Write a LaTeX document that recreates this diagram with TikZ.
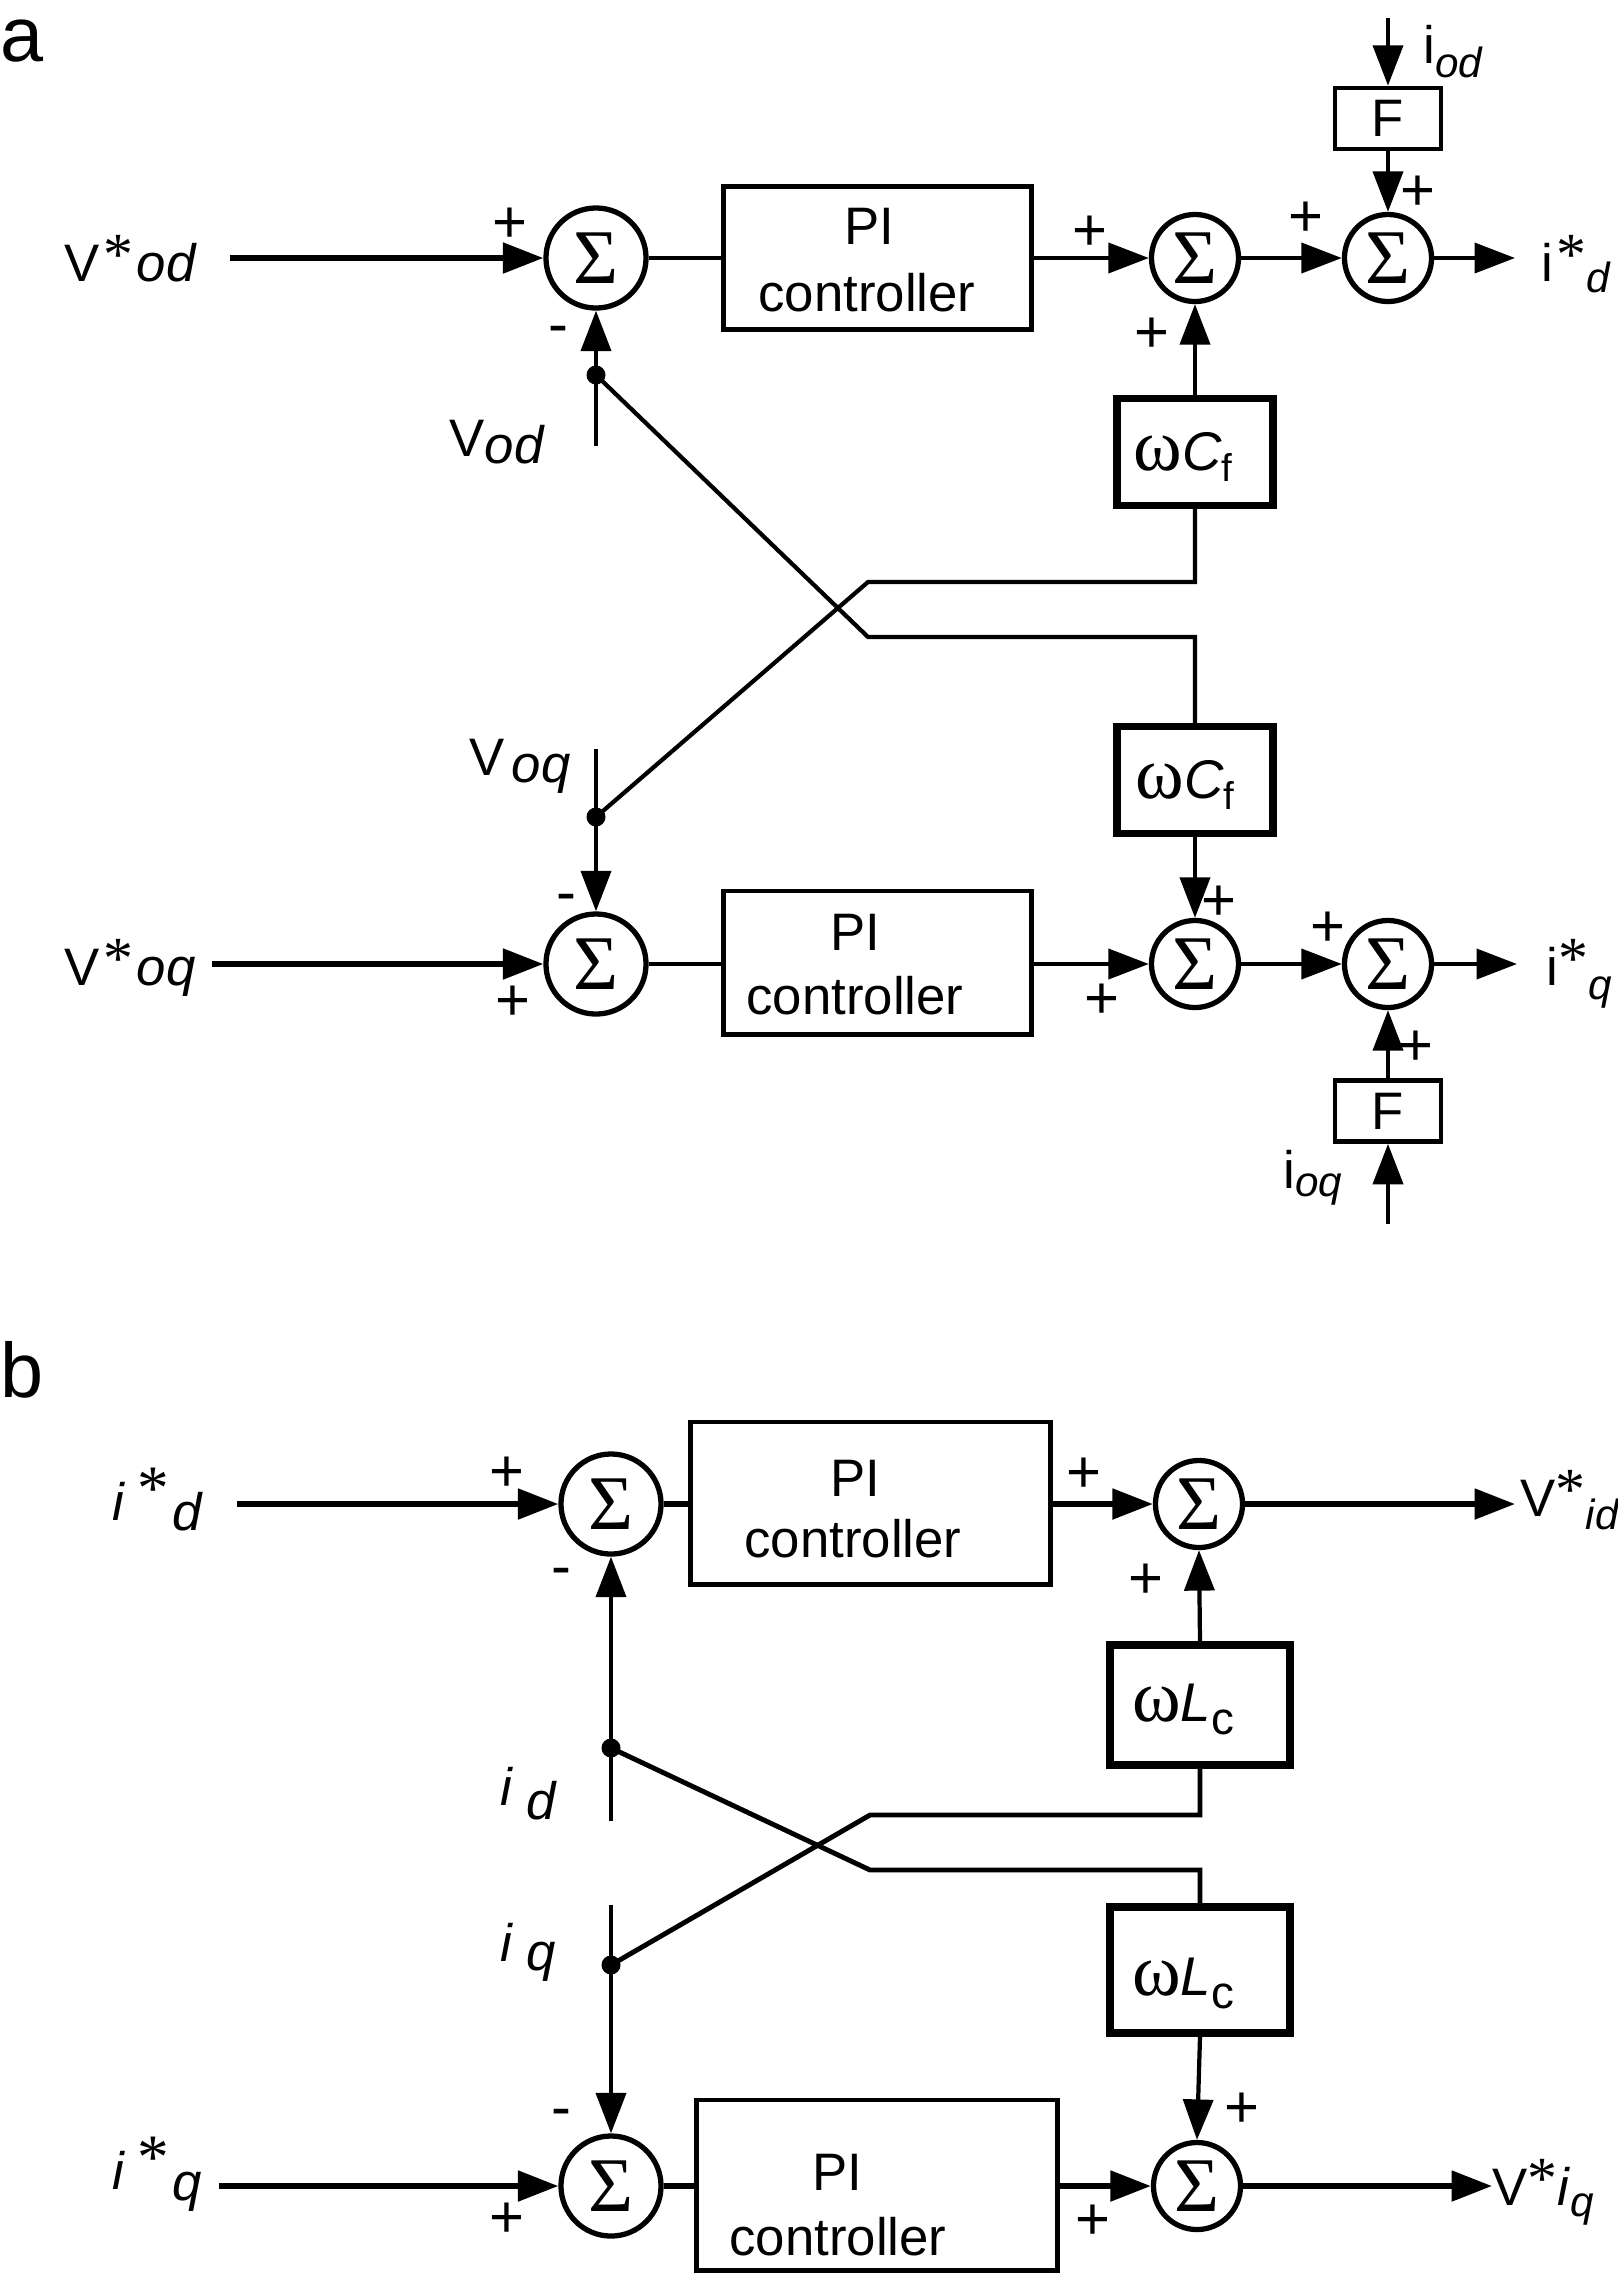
\documentclass[tikz,border=0pt]{standalone}
\usepackage{fontspec}
\setmainfont{Liberation Sans}
\newfontfamily\serifn{Liberation Serif}
\usetikzlibrary{arrows.meta}
\newcommand\Lf{\fontsize{15}{18}\selectfont}
\newcommand\Sf{\fontsize{12}{14}\selectfont\itshape}
\newcommand\Pf{\fontsize{17}{20}\selectfont}
\newcommand\Gf{\serifn\fontsize{22}{26}\selectfont}
\newcommand\Wf{{\serifn\fontsize{21}{24}\selectfont ω}}
\newcommand\Af{\raisebox{1.8pt}{\serifn\fontsize{17}{19}\selectfont\upshape *}}
\newcommand\Bf{\raisebox{3pt}{\serifn\fontsize{18}{20}\selectfont\upshape *}}
\newcommand\Cc{{\fontsize{15.5}{17}\selectfont\itshape C}}
\newcommand\Ll{{\fontsize{15.5}{17}\selectfont\itshape L}}
\begin{document}
\begin{tikzpicture}[x=0.01cm,y=-0.01cm,
  sumA/.style={circle,draw,line width=1.5pt,inner sep=0pt,minimum size=1cm,font=\Gf},
  sumB/.style={sumA,minimum size=0.87cm},
  pibox/.style={draw,line width=1.4pt,inner sep=0pt},
  gainbox/.style={draw,line width=2.1pt,inner sep=0pt,minimum width=1.56cm,minimum height=1.07cm},
  fblock/.style={draw,line width=1.3pt,inner sep=0pt,minimum width=1.06cm,minimum height=0.61cm,font=\Lf},
  txt/.style={inner sep=0pt,font=\Lf},
  sign/.style={inner sep=0pt,font=\Pf},
  jdot/.style={circle,fill,inner sep=0pt,minimum size=0.19cm},
  arr/.style={-{Triangle[length=11.5pt,width=8.5pt]}},
  ln/.style={line width=1.2pt},
  lnb/.style={line width=1.6pt},
  lnd/.style={line width=1.4pt}]
\useasboundingbox (0,0) rectangle (1618,2275);

% ---------------- panel a ----------------
\node[anchor=base west,inner sep=0pt,font=\fontsize{22}{26}\selectfont] (la) at (0,61) {a};

\node[sumA] (s1) at (596,258) {Σ};
\node[sumB] (s2) at (1195,258) {Σ};
\node[sumB] (s3) at (1388,258) {Σ};
\node[pibox,minimum width=3.07cm,minimum height=1.43cm] (pi1) at (877.5,258) {};
\node[fblock] (f1) at (1388,118.5) {F};
\node[gainbox] (g1) at (1195,452) {};
\node[gainbox] (g2) at (1195,780) {};
\node[sumA] (s4) at (596,964) {Σ};
\node[sumB] (s5) at (1195,964) {Σ};
\node[sumB] (s6) at (1388,964) {Σ};
\node[pibox,minimum width=3.07cm,minimum height=1.43cm] (pi2) at (877.5,962.5) {};
\node[fblock] (f2) at (1388,1111) {F};

\node[txt,anchor=base] (pi1a) at (869,244) {PI};
\node[txt,anchor=base] (pi1b) at (867,311) {controller};
\node[txt,anchor=base] (pi2a) at (855,950) {PI};
\node[txt,anchor=base] (pi2b) at (855,1014) {controller};
\node[txt,anchor=base] (g1t) at (1183,470) {\Wf\Cc\raisebox{-3.4pt}{\fontsize{11}{13}\selectfont f}};
\node[txt,anchor=base] (g2t) at (1185,798) {\Wf\Cc\raisebox{-3.4pt}{\fontsize{11}{13}\selectfont f}};

\coordinate (in1) at (230,258);
\coordinate (out1) at (1515,258);
\coordinate (iodtop) at (1388,18);
\coordinate (vodbot) at (596,446);
\coordinate (dod) at (596,375);
\coordinate (voqtop) at (596,749);
\coordinate (doq) at (596,817);
\coordinate (c1) at (1195,582);
\coordinate (c2) at (868,582);
\coordinate (c3) at (868,637);
\coordinate (c4) at (1195,637);
\coordinate (in2) at (212,964);
\coordinate (out2) at (1517,964);
\coordinate (ioqbot) at (1388,1224);

\draw[lnb,arr] (in1) -- (s1.west);
\draw[ln] (s1.east) -- (pi1.west |- s1);
\draw[ln,arr] (pi1.east |- s2) -- (s2.west);
\draw[ln,arr] (s2.east) -- (s3.west);
\draw[ln,arr] (s3.east) -- (out1);
\draw[ln,arr] (iodtop) -- (f1.north);
\draw[ln,arr] (f1.south) -- (s3.north);
\draw[ln,arr] (g1.north) -- (s2.south);
\draw[ln,arr] (vodbot) -- (s1.south);
\draw[ln,arr] (voqtop) -- (s4.north);
\draw[ln] (g1.south) -- (c1) -- (c2) -- (doq);
\draw[ln] (dod) -- (c3) -- (c4) -- (g2.north);
\draw[ln,arr] (g2.south) -- (s5.north);
\draw[lnb,arr] (in2) -- (s4.west);
\draw[ln] (s4.east) -- (pi2.west |- s4);
\draw[ln,arr] (pi2.east |- s5) -- (s5.west);
\draw[ln,arr] (s5.east) -- (s6.west);
\draw[ln,arr] (s6.east) -- (out2);
\draw[ln,arr] (f2.north) -- (s6.south);
\draw[ln,arr] (ioqbot) -- (f2.south);
\node[jdot] (jod) at (dod) {};
\node[jdot] (joq) at (doq) {};

\node[txt,anchor=base west] (tvsod) at (64,281) {V\kern1pt\Af\kern1pt\textit{od}};
\node[txt,anchor=base west] (tvod) at (449,456) {V\raisebox{-2pt}{\itshape od}};
\node[txt,anchor=base west] (tvoq) at (469,775) {V\kern2pt\raisebox{-2pt}{\itshape oq}};
\node[txt,anchor=base west] (tvsoq) at (64,985) {V\kern1pt\Af\kern1pt\textit{oq}};
\node[txt,anchor=base west] (tisd) at (1541,281) {i\kern1pt\Af\raisebox{-3.4pt}{\Sf d}};
\node[txt,anchor=base west] (tiod) at (1423,63) {i\raisebox{-4pt}{\Sf od}};
\node[txt,anchor=base west] (tisq) at (1546,985) {i\Af\raisebox{-4pt}{\Sf q}};
\node[txt,anchor=base west] (tioq) at (1283,1188) {i\raisebox{-2.5pt}{\Sf oq}};

\node[sign] (p1) at (510,225) {+};
\node[sign] (m1) at (558,335) {-};
\node[sign] (p2) at (1090,233) {+};
\node[sign] (p3) at (1152,335) {+};
\node[sign] (p4) at (1306,219) {+};
\node[sign] (p5) at (1418,193) {+};
\node[sign] (m2) at (566,903) {-};
\node[sign] (p6) at (513,1003) {+};
\node[sign] (p7) at (1219,903) {+};
\node[sign] (p8) at (1102,1001) {+};
\node[sign] (p9) at (1328,929) {+};
\node[sign] (p10) at (1416,1048) {+};

% ---------------- panel b ----------------
\node[anchor=base west,inner sep=0pt,font=\fontsize{22}{26}\selectfont] (lb) at (0,1397) {b};

\node[sumA] (s7) at (611,1504) {Σ};
\node[sumB] (s8) at (1199,1504) {Σ};
\node[pibox,minimum width=3.59cm,minimum height=1.62cm] (pi3) at (870.5,1503) {};
\node[gainbox,minimum width=1.8cm,minimum height=1.2cm] (g3) at (1200,1705) {};
\node[gainbox,minimum width=1.8cm,minimum height=1.26cm] (g4) at (1200,1970) {};
\node[sumA] (s9) at (611,2186) {Σ};
\node[sumB] (s10) at (1197,2186) {Σ};
\node[pibox,minimum width=3.6cm,minimum height=1.7cm] (pi4) at (877,2185) {};

\node[txt,anchor=base] (pi3a) at (855,1496) {PI};
\node[txt,anchor=base] (pi3b) at (853,1557) {controller};
\node[txt,anchor=base] (pi4a) at (837,2190) {PI};
\node[txt,anchor=base] (pi4b) at (838,2255) {controller};
\node[txt,anchor=base] (g3t) at (1183,1721) {\Wf\Ll\raisebox{-3.7pt}{\fontsize{13}{15}\selectfont c}};
\node[txt,anchor=base] (g4t) at (1183,1995) {\Wf\Ll\raisebox{-3.7pt}{\fontsize{13}{15}\selectfont c}};

\coordinate (in3) at (237,1504);
\coordinate (out3) at (1515,1504);
\coordinate (idbot) at (611,1821);
\coordinate (did) at (611,1748);
\coordinate (iqtop) at (611,1905);
\coordinate (diq) at (611,1965);
\coordinate (c5) at (1200,1815);
\coordinate (c6) at (870,1815);
\coordinate (c7) at (870,1870);
\coordinate (c8) at (1200,1870);
\coordinate (in4) at (219,2186);
\coordinate (out4) at (1492,2186);

\draw[lnb,arr] (in3) -- (s7.west);
\draw[lnb] (s7.east) -- (pi3.west |- s7);
\draw[lnb,arr] (pi3.east |- s8) -- (s8.west);
\draw[lnb,arr] (s8.east) -- (out3);
\draw[ln,arr] (g3.north) -- (s8.south);
\draw[ln,arr] (idbot) -- (s7.south);
\draw[lnd] (g3.south) -- (c5) -- (c6) -- (diq);
\draw[ln,arr] (iqtop) -- (s9.north);
\draw[lnd] (did) -- (c7) -- (c8) -- (g4.north);
\draw[ln,arr] (g4.south) -- (s10.north);
\draw[lnb,arr] (in4) -- (s9.west);
\draw[lnb] (s9.east) -- (pi4.west |- s9);
\draw[lnb,arr] (pi4.east |- s10) -- (s10.west);
\draw[lnb,arr] (s10.east) -- (out4);
\node[jdot] (jid) at (did) {};
\node[jdot] (jiq) at (diq) {};

\node[txt,anchor=base west] (tisd2) at (112,1520) {\itshape i\kern3.7pt\Bf\kern1pt\raisebox{-3pt}{d}};
\node[txt,anchor=base west] (tisq2) at (112,2189) {\itshape i\kern3.7pt\Bf\kern1pt\raisebox{-3.4pt}{q}};
\node[txt,anchor=base west] (tvsid) at (1520,1516) {V\Af\raisebox{-3.7pt}{\Sf id}};
\node[txt,anchor=base west] (tvsiq) at (1492,2205) {V\Af\textit{i}\raisebox{-3.4pt}{\Sf q}};
\node[txt,anchor=base west] (tid) at (500,1805) {\itshape i\kern4pt\raisebox{-4pt}{d}};
\node[txt,anchor=base west] (tiq) at (500,1961) {\itshape i\kern4pt\raisebox{-2.6pt}{q}};

\node[sign] (p11) at (507,1474) {+};
\node[sign] (m3) at (561,1577) {-};
\node[sign] (p12) at (1084,1475) {+};
\node[sign] (p13) at (1146,1581) {+};
\node[sign] (m4) at (561,2118) {-};
\node[sign] (p14) at (507,2220) {+};
\node[sign] (p15) at (1242,2110) {+};
\node[sign] (p16) at (1093,2222) {+};
\end{tikzpicture}
\end{document}
